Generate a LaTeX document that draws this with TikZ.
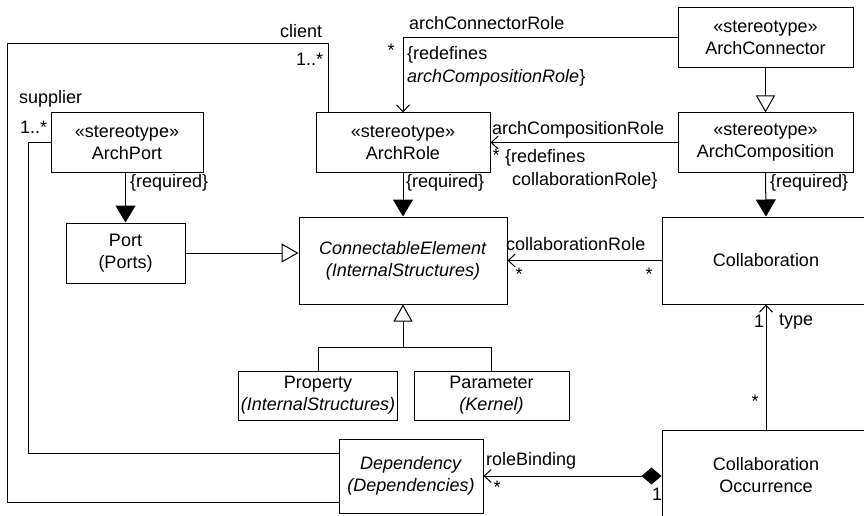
\documentclass[tikz,border=0pt]{standalone}
\usepackage{fontspec}
\setmainfont{Liberation Sans}
\usetikzlibrary{arrows.meta,positioning,calc}
\tikzset{
  cls/.style  = {draw, line width=1pt, rectangle, inner sep=2pt, align=center},
  lbl/.style  = {inner sep=0pt, anchor=base west},
  mult/.style = {inner sep=0pt},
  wire/.style = {line width=1pt},
  req/.style  = {-{Triangle[length=17pt,width=20pt]}, line width=1pt},
  gen/.style  = {-{Triangle[open,length=17pt,width=19pt]}, line width=1pt},
  nav/.style  = {-{Straight Barb[length=7pt,width=13pt]}, line width=1pt},
  comp/.style = {{Diamond[length=20pt,width=17pt]}-{Straight Barb[length=7pt,width=13pt]}, line width=1pt},
}

\begin{document}
\begin{tikzpicture}[x=1pt,y=-1pt,font=\fontsize{18}{22}\selectfont]
\useasboundingbox (0,0) rectangle (864,516);
% ---- classes ----
\node[cls, minimum width=152pt, minimum height=59pt] (APort) at (127,142.5) {«stereotype»\\ArchPort};
\node[cls, minimum width=119pt, minimum height=60pt] (Port) at (125.5,253) {Port\\(Ports)};
\node[cls, minimum width=174pt, minimum height=59pt] (ARole) at (403,142.5) {«stereotype»\\ArchRole};
\node[cls, minimum width=208pt, minimum height=87pt] (CE) at (403,260.5) {\textit{ConnectableElement}\\\textit{(InternalStructures)}};
\node[cls, minimum width=175pt, minimum height=60pt] (AConn) at (765.5,38) {«stereotype»\\ArchConnector};
\node[cls, minimum width=175pt, minimum height=59pt] (AComp) at (765.5,142.5) {«stereotype»\\ArchComposition};
\node[cls, minimum width=208pt, minimum height=87pt] (Collab) at (766,260.5) {Collaboration};
\node[cls, minimum width=156pt, minimum height=49pt] (Prop) at (318,395.5) {Property\\\textit{(InternalStructures)}};
\node[cls, minimum width=155pt, minimum height=49pt] (Param) at (491.5,395.5) {Parameter\\\textit{(Kernel)}};
\node[cls, minimum width=144pt, minimum height=74pt] (Dep) at (411,476) {\textit{Dependency}\\\textit{(Dependencies)}};
\node[cls, minimum width=208pt, minimum height=90pt] (CollOcc) at (766,475) {Collaboration\\Occurrence};
% ---- bends ----
\coordinate (clTop) at (328,44);
\coordinate (clLeft) at (7,502);
\coordinate (spLeft) at (28,453);
\coordinate (tree) at (403,347);
% ---- client / supplier ----
\draw[wire] (ARole.north -| clTop) |- (clLeft |- clTop) -- (clLeft) -- (Dep.west |- clLeft);
\draw[wire] (APort.west) -| (spLeft) -- (Dep.west |- spLeft);
% ---- required extensions ----
\draw[req] (APort.south -| Port.north) -- (Port.north);
\draw[req] (ARole.south) -- (CE.north);
\draw[req] (AComp.south) -- (Collab.north);
% ---- generalizations ----
\draw[gen] (Port.east) -- (Port.east -| CE.west);
\draw[gen] (AConn.south) -- (AComp.north);
\draw[wire] (Param.north) |- (tree);
\draw[gen] (Prop.north) |- (tree) -- (CE.south);
% ---- associations ----
\draw[nav] (AConn.west) -| (ARole.north);
\draw[nav] (AComp.west) -- (ARole.east);
\draw[nav] (Collab.west) -- (CE.east);
\draw[nav] (CollOcc.north) -- (Collab.south);
\draw[comp] (CollOcc.west |- Dep.east) -- (Dep.east);
% ---- end labels ----
\node[lbl] (clientL) at (280,38) {client};
\node[lbl] (clientM) at (296,66) {1..*};
\node[lbl] (supL) at (19,104) {supplier};
\node[lbl] (supM) at (20,134) {1..*};
\node[lbl] (reqA) at (130,187) {\{required\}};
\node[lbl] (reqB) at (406,187) {\{required\}};
\node[lbl] (reqC) at (770,187) {\{required\}};
\node[lbl] (acrL) at (409,30) {archConnectorRole};
\node[mult] (acrM) at (391,50) {*};
\node[lbl] (redefA1) at (407,60) {\{redefines};
\node[lbl] (redefA2) at (407,83) {\textit{archCompositionRole}\}};
\node[lbl] (acpL) at (492,135) {archCompositionRole};
\node[mult] (acpM) at (496,155) {*};
\node[lbl] (redefB1) at (505,162) {\{redefines};
\node[lbl] (redefB2) at (512,185) {collaborationRole\}};
\node[lbl] (crL) at (506,250) {collaborationRole};
\node[mult] (crM1) at (519,274) {*};
\node[mult] (crM2) at (649,274) {*};
\node[lbl] (typeM) at (754,327) {1};
\node[lbl] (typeL) at (779,325) {type};
\node[mult] (typeS) at (755,401) {*};
\node[lbl] (rbL) at (486,465) {roleBinding};
\node[mult] (rbM) at (497,487) {*};
\node[lbl] (rbN) at (652,500) {1};
\end{tikzpicture}
\end{document}
